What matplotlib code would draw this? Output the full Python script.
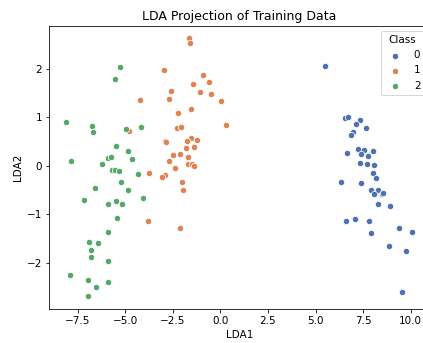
import numpy as np
import matplotlib
matplotlib.use("Agg")
import matplotlib.pyplot as plt

# LDA projections
class0_x = [5.49, 6.54, 6.72, 7.33, 7.11, 7.63, 6.96, 6.84, 6.63, 7.25, 7.54, 8.02, 7.37,
            7.77, 7.32, 7.70, 8.09, 8.00, 8.19, 6.33, 7.37, 7.91, 8.30, 8.09, 8.47, 8.56,
            8.28, 8.91, 6.61, 7.07, 7.81, 7.93, 9.39, 10.09, 8.84, 9.77, 9.53]
class0_y = [2.06, 0.98, 1.01, 0.95, 0.86, 0.79, 0.69, 0.64, 0.26, 0.34, 0.32, 0.30, 0.24,
            0.20, 0.06, 0.03, 0.01, -0.15, -0.24, -0.34, -0.36, -0.49, -0.49, -0.58, -0.58, -0.56,
            -0.79, -0.83, -1.13, -1.09, -1.13, -1.39, -1.27, -1.37, -1.66, -1.75, -2.60]

class1_x = [-1.63, -1.58, -2.95, -0.93, -0.58, -1.44, -2.60, -1.09, -0.47, -2.70, -4.23, 0.04,
            -1.56, -2.23, 0.30, -2.26, -2.05, -4.79, -2.91, -2.84, -1.53, -1.77, -1.23, -1.81,
            -1.37, -2.12, -2.51, -1.68, -2.68, -1.72, -1.47, -1.40, -2.37, -2.89, -3.05, -3.77,
            -2.00, -1.96, -3.79, -2.14]
class1_y = [2.64, 2.54, 1.98, 1.88, 1.73, 1.69, 1.55, 1.52, 1.48, 1.38, 1.35, 1.33,
            1.18, 1.09, 0.85, 0.79, 0.81, 0.72, 0.52, 0.50, 0.57, 0.52, 0.54, 0.36,
            0.38, 0.25, 0.23, 0.19, 0.11, 0.03, 0.05, -0.01, -0.05, -0.19, -0.23, -0.14,
            -0.33, -0.49, -1.14, -1.28]

class2_x = [-5.26, -5.54, -8.11, -6.77, -6.68, -4.98, -4.16, -5.51, -4.86, -4.65, -7.84, -5.89,
            -5.75, -6.23, -5.70, -5.56, -5.33, -4.32, -5.23, -6.60, -4.86, -7.16, -5.89, -5.51,
            -5.16, -4.09, -5.42, -5.88, -6.88, -6.44, -6.81, -6.79, -5.88, -7.91, -6.93, -5.89,
            -6.54, -6.93]
class2_y = [2.04, 1.80, 0.91, 0.83, 0.69, 0.76, 0.80, 0.41, 0.30, 0.15, 0.11, 0.16,
            0.19, 0.04, -0.08, -0.08, -0.10, -0.17, -0.34, -0.46, -0.49, -0.71, -0.78, -0.73,
            -0.79, -0.67, -1.07, -1.36, -1.56, -1.59, -1.73, -1.88, -1.96, -2.25, -2.36, -2.39,
            -2.49, -2.68]

labels = ["0", "1", "2"]
colors = ["#4c72b0", "#dd8452", "#55a868"]

plt.rcParams["font.size"] = 10.4

fig = plt.figure(figsize=(423 / 72, 343 / 72), dpi=72)
# right spine falls just outside the picture, as in the cropped original
ax = fig.add_axes([0.116, 0.099, 0.9, 0.826])

for xs, ys, lab, c in zip([class0_x, class1_x, class2_x],
                          [class0_y, class1_y, class2_y], labels, colors):
    ax.scatter(xs, ys, s=40, color=c, edgecolor="white", linewidth=0.75, label=lab)

ax.set_xlim(-9.0, 11.0)
ax.set_ylim(-2.95, 2.89)
ax.set_xticks([-7.5, -5.0, -2.5, 0.0, 2.5, 5.0, 7.5, 10.0])
ax.set_yticks([-2, -1, 0, 1, 2])
ax.set_xlabel("LDA1")
ax.set_ylabel("LDA2")
ax.set_title("LDA Projection of Training Data")
ax.legend(title="Class", loc="upper right")

fig.savefig("out.png", dpi=72)
